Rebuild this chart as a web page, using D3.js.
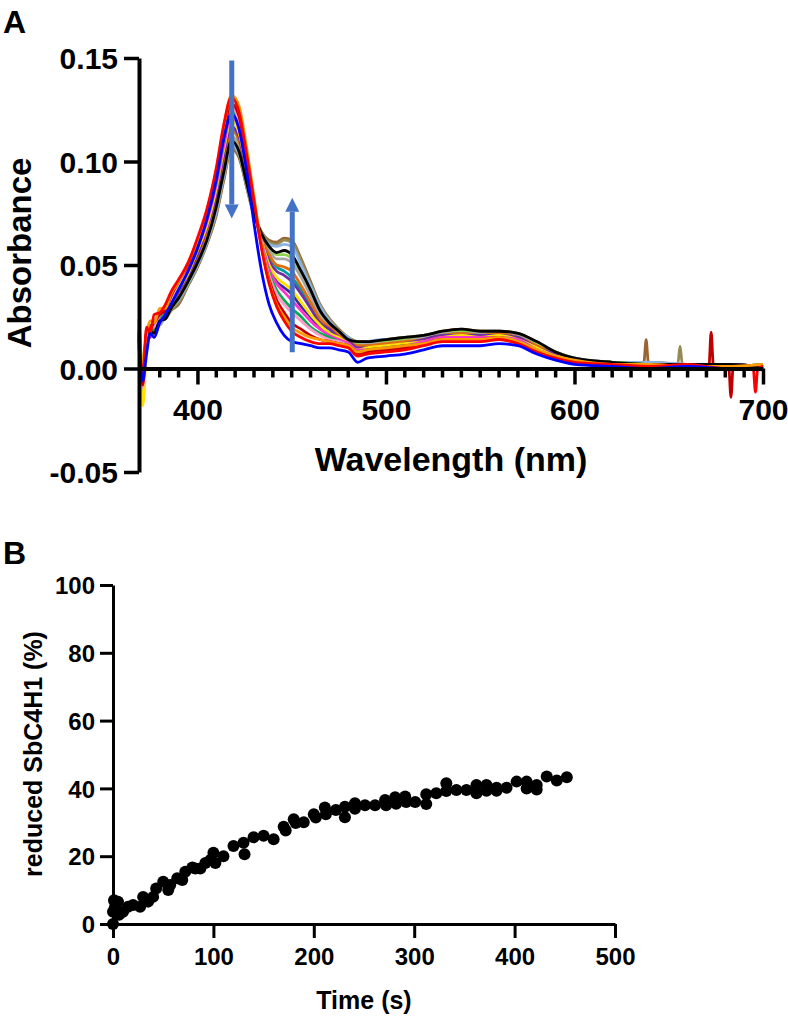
<!DOCTYPE html>
<html><head><meta charset="utf-8">
<script src="https://cdn.jsdelivr.net/npm/d3@7"></script>
<style>
body{margin:0;background:#fff}
svg text{font-family:Arial,"Liberation Sans",sans-serif;font-weight:bold;fill:#000}
</style>
</head><body>
<svg id="chart" width="788" height="1016"></svg>
<script>
// ---------- Panel A data (absorbance in milli-absorbance units) ----------
const wavelengths = [369,371,373,375,377,380,383,386,390,395,400,405,410,414,418,422,426,430,434,438,442,446,450,455,460,465,470,475,480,485,490,500,510,520,530,540,550,560,570,580,590,600,620,640,660,680,700];

const specBrown = [12,-6,12,18,16,22,24,28, 31,40,49,60,74,91,106,102,88,74,66,62,61,63,62,53,42,31,24,19,15,13,13, 14,15,16,18,19,18,18,17,12,8,5,3,3,2,2,1];
const specOlive = [10,-12,15,17,21,21,26,28, 32,40,49,60,75,92,107,103,88,74,66,61,60,62,61,52,41,31,24,19,15,13,13, 14,15,16,17,18,18,18,17,12,8,5,3,3,2,2,1];
const specLightBlue = [21,-10,13,19,18,25,24,29, 33,41,50,61,76,93,108,104,89,75,65,60,59,60,59,50,40,30,23,18,15,12,13, 14,14,16,17,18,17,18,16,12,8,5,3,3,2,1,2];
const specLime = [20,-1,11,20,16,24,25,29, 34,42,52,63,79,96,111,106,91,75,64,58,55,55,53,45,36,27,22,17,14,12,12, 13,14,15,17,18,17,17,16,12,8,5,3,2,2,2,1];
const specGray = [13,-6,18,15,21,21,26,30, 35,43,53,64,80,98,112,108,92,76,64,57,53,53,51,44,35,26,21,17,14,11,12, 12,13,15,17,17,17,17,16,11,7,5,3,2,2,2,1];
const specTeal = [16,-7,14,18,18,23,27,31, 36,44,55,67,83,102,116,111,94,77,63,54,49,47,44,38,30,23,19,16,13,10,11, 11,12,14,16,17,16,16,15,10,7,4,3,2,2,1,1];
const specDarkOrange = [19,0,12,21,18,23,26,32, 36,44,54,66,82,100,115,110,94,76,63,55,50,49,47,40,32,24,20,16,13,11,11, 12,13,14,16,17,16,17,15,11,7,4,3,2,2,1,2];
const specPurple = [14,-8,16,17,20,23,28,31, 37,45,55,68,84,103,117,112,95,77,62,52,47,45,42,36,29,22,19,15,13,10,10, 11,12,14,16,16,16,16,15,10,7,4,3,2,2,2,1];
const specIndigo = [11,-4,17,16,22,24,27,33, 39,47,57,70,88,107,121,115,98,78,61,49,42,39,36,30,25,20,17,14,12,9,9, 10,11,13,15,15,15,16,14,9,6,4,2,2,1,2,1];
const specYellow = [20,-18,8,19,15,24,26,31, 38,46,57,69,87,106,120,114,97,78,62,50,44,41,38,32,26,21,17,15,12,9,10, 11,12,13,15,16,15,16,14,10,6,4,3,2,2,1,1];
const specMagenta = [16,-5,17,15,23,23,29,33, 39,47,58,71,89,108,122,116,98,78,61,48,41,37,33,28,23,19,16,14,12,9,9, 10,11,13,15,15,15,15,14,9,6,4,2,2,2,1,1];
const specGreen = [24,-2,14,21,18,25,27,33, 40,48,60,73,91,111,125,118,100,79,60,46,38,33,29,25,20,17,15,13,11,8,9, 10,11,12,14,14,14,15,13,9,6,4,3,2,2,1,2];
const specPink = [19,-9,15,20,20,26,28,34, 41,49,60,74,92,113,126,120,101,80,60,45,36,31,27,23,19,16,14,13,11,7,8, 9,10,12,14,14,14,15,13,9,6,4,2,2,1,1,1];
const specDarkRed = [15,-8,17,20,22,26,28,35, 42,50,62,75,95,115,128,122,102,80,59,43,33,27,22,19,16,14,13,12,11,7,8, 9,10,12,14,14,14,15,12,8,5,3,2,1,1,1,0];
const specBlack = [17,-3,15,18,17,23,24,29, 34,42,51,62,78,95,110,105,90,75,65,59,56,57,55,47,38,28,22,18,14,13,13, 14,15,16,18,19,18,18,17,13,8,5,3,2,2,2,1];
const specOrange = [22,2,16,23,22,29,29,36, 42,51,62,76,96,117,132,127,107,83,59,42,31,25,20,17,15,14,13,12,11,8,9, 10,11,12,14,14,14,15,13,9,6,4,2,2,1,1,2];
const specRed = [18,-4,20,17,26,27,31,37, 43,51,63,77,97,118,131,124,104,81,58,41,30,23,18,15,13,12,12,11,10,6,7, 8,9,11,13,13,13,14,12,8,5,3,2,1,2,0,1];
const specBlue = [14,-6,7,17,15,22,26,31, 38,47,58,72,91,111,123,116,96,70,47,31,22,16,13,12,11,10,10,9,8,3,5, 6,7,9,11,11,11,12,11,7,4,2,1,0,1,0,0];

// narrow spikes in the red region (milli-absorbance)
const spikeOwner = ["brown","olive","darkred","darkred","red"];
const spikeWl    = [638, 656, 672.5, 683, 696];
const spikePeak  = [13.9, 10.8, 17.6, -13.9, -11.4];
const spikeBase  = [3, 2, 1, 1, 0];

// arrows (wavelength, from-absorbance, to-absorbance)
const arrowWl   = [418.2, 450.3];
const arrowFrom = [0.1488, 0.0079];
const arrowTo   = [0.0725, 0.0825];

const absTicks = [-0.05, 0, 0.05, 0.10, 0.15];
const wlMajorTicks = [400, 500, 600, 700];
const wlMinorTicks = [380,390,410,420,430,440,450,460,470,480,490,510,520,530,540,550,560,570,580,590,610,620,630,640,650,660,670,680,690];

// ---------- Panel B data ----------
const timeS = [0,0,1,2,5,6,10,15,20,27,30,35,40,43,50,55,57,64,69,72,79,82,87,92,97,100,102,110,120,130,131,140,150,160,170,172,180,182,190,200,202,211,212,222,231,231,241,241,251,261,271,272,281,282,291,292,301,312,312,322,332,332,342,352,362,362,372,372,382,382,392,402,412,412,422,422,432,442,452];
const reducedPct = [0,3.6,7,5,6.6,2.7,3.6,5.1,5.6,5.1,8,6.6,8,10.5,12.5,10,11.5,13.5,13,15.4,16.7,16.4,16.4,18,18.9,21,18,20,23,24,20.6,25.6,26,25,28.7,27.6,30.9,29.8,30,32.4,31.4,34.4,32.4,33.6,34.6,31.5,35.6,34,35,35,36.6,35,37.4,35.5,37.6,36,36,38.3,35.4,38.6,41.5,39.2,39.5,39.5,41,38.6,41,39.3,40.2,39.3,40.2,42,42,40,41,39.7,43.5,42.3,43.3];
const timeTicks = [0,100,200,300,400,500];
const pctTicks = [0,20,40,60,80,100];

// ---------- drawing ----------
const svg = d3.select("#chart");
svg.append("rect").attr("width",788).attr("height",1016).attr("fill","#fff");

// series table (draw order bottom -> top)
const series = [
  {name:"brown", color:"#996633", vals:specBrown},
  {name:"olive", color:"#948A54", vals:specOlive},
  {name:"lightblue", color:"#8DB4E2", vals:specLightBlue},
  {name:"lime", color:"#92D050", vals:specLime},
  {name:"gray", color:"#A6A6A6", vals:specGray},
  {name:"teal", color:"#00A0A0", vals:specTeal},
  {name:"darkorange", color:"#E46C0A", vals:specDarkOrange},
  {name:"purple", color:"#7030A0", vals:specPurple},
  {name:"indigo", color:"#3A2A9A", vals:specIndigo},
  {name:"yellow", color:"#FFE000", vals:specYellow},
  {name:"magenta", color:"#FF33CC", vals:specMagenta},
  {name:"green", color:"#00B050", vals:specGreen},
  {name:"pink", color:"#FF99CC", vals:specPink},
  {name:"darkred", color:"#C00000", vals:specDarkRed},
  {name:"black", color:"#000000", vals:specBlack},
  {name:"orange", color:"#FF9900", vals:specOrange},
  {name:"red", color:"#FF0000", vals:specRed},
  {name:"blue", color:"#0000FF", vals:specBlue}
];

function buildPoints(s){
  const pts = wavelengths.map((w,i)=>({w, a:s.vals[i]/1000}));
  spikeOwner.forEach((o,k)=>{
    if(o===s.name){
      pts.push({w:spikeWl[k]-1.2, a:spikeBase[k]/1000},
               {w:spikeWl[k], a:spikePeak[k]/1000},
               {w:spikeWl[k]+1.2, a:spikeBase[k]/1000});
    }
  });
  pts.sort((p,q)=>p.w-q.w);
  return pts;
}

// Panel A
const xA = d3.scaleLinear().domain([369,700]).range([139,763]);
const yA = d3.scaleLinear().domain([-0.05,0.15]).range([472,58]);

const lineA = d3.line().x(d=>xA(d.w)).y(d=>yA(d.a)).curve(d3.curveMonotoneX);
const gLines = svg.append("g");
series.forEach(s=>{
  gLines.append("path").datum(buildPoints(s))
    .attr("d",lineA).attr("fill","none").attr("stroke",s.color)
    .attr("stroke-width",2.8).attr("stroke-linejoin","round");
});

// y axis A
const gyA = svg.append("g").attr("transform","translate(139,0)")
  .call(d3.axisLeft(yA).tickValues(absTicks).tickFormat(d=>d.toFixed(2)).tickSize(15).tickSizeOuter(0).tickPadding(6));
gyA.select(".domain").attr("stroke","#000").attr("stroke-width",4);
gyA.selectAll(".tick line").attr("stroke","#000").attr("stroke-width",3.5);
gyA.selectAll(".tick text").style("font-size","30px").attr("dy","0.36em");

// x axis A at y=0
const gxA = svg.append("g").attr("transform",`translate(0,${yA(0)})`)
  .call(d3.axisBottom(xA).tickValues(wlMajorTicks).tickFormat(d3.format("d")).tickSize(16).tickSizeOuter(0).tickPadding(14));
gxA.select(".domain").attr("stroke","#000").attr("stroke-width",4);
gxA.selectAll(".tick line").attr("stroke","#000").attr("stroke-width",3.5);
gxA.selectAll(".tick text").style("font-size","30px");
gxA.selectAll(".minor").data(wlMinorTicks).enter().append("line")
  .attr("class","minor").attr("x1",d=>xA(d)).attr("x2",d=>xA(d))
  .attr("y1",0).attr("y2",9).attr("stroke","#000").attr("stroke-width",3.5);

// arrows
const arrowColor = "#4472C4";
arrowWl.forEach((w,i)=>{
  const x = xA(w), y0 = yA(arrowFrom[i]), y1 = yA(arrowTo[i]);
  const dir = y1 > y0 ? 1 : -1;
  const headLen = 14, headHalf = 7;
  svg.append("line").attr("x1",x).attr("x2",x).attr("y1",y0).attr("y2",y1 - dir*headLen)
    .attr("stroke",arrowColor).attr("stroke-width",5);
  svg.append("path")
    .attr("d",`M${x-headHalf},${y1-dir*headLen}L${x+headHalf},${y1-dir*headLen}L${x},${y1}Z`)
    .attr("fill",arrowColor);
});

// titles A
svg.append("text").attr("x",3).attr("y",33).style("font-size","32px").text("A");
svg.append("text").attr("transform","translate(31,253) rotate(-90)").attr("text-anchor","middle")
  .style("font-size","33px").text("Absorbance");
svg.append("text").attr("x",451).attr("y",471).attr("text-anchor","middle")
  .style("font-size","34px").text("Wavelength (nm)");

// Panel B
const xB = d3.scaleLinear().domain([0,500]).range([113,615]);
const yB = d3.scaleLinear().domain([0,100]).range([924,585]);

const gyB = svg.append("g").attr("transform","translate(113,0)")
  .call(d3.axisLeft(yB).tickValues(pctTicks).tickFormat(d3.format("d")).tickSize(13).tickSizeOuter(0).tickPadding(5));
gyB.select(".domain").attr("stroke","#000").attr("stroke-width",3);
gyB.selectAll(".tick line").attr("stroke","#000").attr("stroke-width",3);
gyB.selectAll(".tick text").style("font-size","24px").attr("dy","0.36em");

const gxB = svg.append("g").attr("transform","translate(0,924)")
  .call(d3.axisBottom(xB).tickValues(timeTicks).tickFormat(d3.format("d")).tickSize(14).tickSizeOuter(0).tickPadding(10));
gxB.select(".domain").attr("stroke","#000").attr("stroke-width",3);
gxB.selectAll(".tick line").attr("stroke","#000").attr("stroke-width",3);
gxB.selectAll(".tick text").style("font-size","24px");

svg.append("g").selectAll("circle").data(timeS.map((t,i)=>({t, v:reducedPct[i]}))).enter()
  .append("circle").attr("cx",d=>xB(d.t)).attr("cy",d=>yB(d.v)).attr("r",6).attr("fill","#000");

svg.append("text").attr("x",3).attr("y",564).style("font-size","32px").text("B");
svg.append("text").attr("transform","translate(42,754) rotate(-90)").attr("text-anchor","middle")
  .style("font-size","25px").text("reduced SbC4H1 (%)");
svg.append("text").attr("x",364).attr("y",1009).attr("text-anchor","middle")
  .style("font-size","25px").text("Time (s)");
</script>
</body></html>
